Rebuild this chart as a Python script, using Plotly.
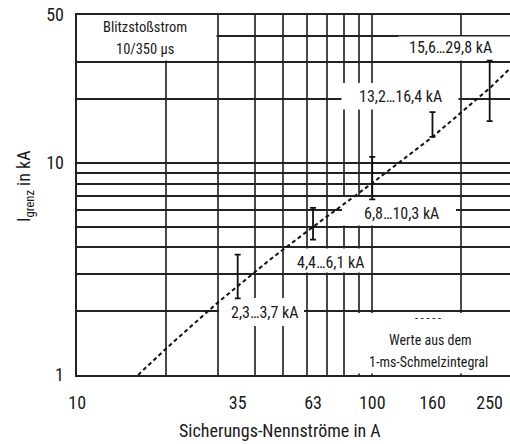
import plotly.graph_objects as go

# ---------------- data ----------------
fuse_ratings = [35, 63, 100, 160, 250]          # A
i_low = [2.3, 4.35, 6.75, 13.3, 15.8]            # kA
i_high = [3.7, 6.15, 10.7, 17.4, 30.5]           # kA
range_labels = ["2,3…3,7 kA", "4,4…6,1 kA", "6,8…10,3 kA", "13,2…16,4 kA", "15,6…29,8 kA"]

curve_x = [16.1, 20, 30, 45, 63, 100, 160, 250, 294]
curve_y = [1.0, 1.33, 2.2, 3.5, 5.0, 8.05, 13.3, 22.6, 28.1]

x_tick_vals = [10, 35, 63, 100, 160, 250]
x_tick_text = ["10", "35", "63", "100", "160", "250"]
y_tick_vals = [1, 10, 50]
y_tick_text = ["1", "10", "50"]
x_grid = [20, 30, 40, 50, 60, 70, 80, 90, 100, 200]
y_grid = [2, 3, 4, 5, 6, 7, 8, 9, 10, 20, 30, 40]

# ---------------- layout constants ----------------
W, H = 510, 444
L, R, T, B = 77, 0, 15, 69
PW, PH = W - L - R, H - T - B
XR = [0.9995, 2.4668]
YR = [-0.0005, 1.6995]
FONT = "Liberation Sans Narrow, Roboto Condensed, DejaVu Sans Condensed, Liberation Sans, sans-serif"
TXT = "#1a1a1a"


def fx(px):
    return (px - L) / PW


def fy(py):
    return (T + PH - py) / PH


def dx(px):  # pixel -> data value on the log x axis
    return 10 ** (XR[0] + (px - L) / PW * (XR[1] - XR[0]))


def dy(py):
    return 10 ** (YR[0] + (T + PH - py) / PH * (YR[1] - YR[0]))


fig = go.Figure()

# white label backgrounds, drawn above the gridlines but below the data
masks = [
    (77, 216.5, 15, 60.5),
    (398, 510, 36.5, 60.5),
    (341.5, 458.5, 83, 109.5),
    (342, 456, 197, 225.5),
    (285, 369.5, 248.5, 272.5),
    (219, 304, 298, 326),
    (345, 510, 313, 373.5),
]
mx, my = [], []
for x0, x1, y0, y1 in masks:
    mx += [dx(x0), dx(x1), dx(x1), dx(x0), dx(x0), None]
    my += [dy(y0), dy(y0), dy(y1), dy(y1), dy(y0), None]
fig.add_trace(go.Scatter(
    x=mx, y=my, mode="lines", fill="toself", fillcolor="white",
    line=dict(width=0, color="rgba(255,255,255,0)"),
    xaxis="x", yaxis="y", hoverinfo="skip", showlegend=False))

fig.add_trace(go.Scatter(
    x=curve_x, y=curve_y, mode="lines",
    line=dict(color="#111", width=2, dash="4px,3px"),
    xaxis="x", yaxis="y", hoverinfo="skip", showlegend=False))

fig.add_trace(go.Scatter(
    x=fuse_ratings, y=i_low, mode="markers",
    marker=dict(size=1, opacity=0),
    error_y=dict(type="data", symmetric=False,
                 array=[h - l for h, l in zip(i_high, i_low)],
                 arrayminus=[0] * len(i_low),
                 color="#111", thickness=1.8, width=3),
    xaxis="x2", yaxis="y2", hoverinfo="skip", showlegend=False))

ann = []


def add_text(text, px, py, size, angle=0):
    ann.append(dict(text=text, x=fx(px), y=fy(py), xref="paper", yref="paper",
                    xanchor="center", yanchor="middle", showarrow=False,
                    textangle=angle, font=dict(size=size, family=FONT, color=TXT)))


label_pos = [(264, 312), (330, 262), (401, 213), (400, 97), (450, 47)]
for text, (px, py) in zip(range_labels, label_pos):
    add_text(text, px, py, 16)

add_text("Blitzstoßstrom", 145, 28, 14.5)
add_text("10/350 µs", 145, 50, 14.5)
add_text("- - - - -", 428, 318, 12)
add_text("Werte aus dem", 430, 340, 14)
add_text("1-ms-Schmelzintegral", 428, 362, 14)
add_text("Sicherungs-Nennströme in A", 280, 431, 18)
add_text("I<sub>grenz</sub> in kA", 25, 186, 18, angle=-90)

fig.update_layout(
    width=W, height=H,
    margin=dict(l=L, r=R, t=T, b=B, pad=0),
    paper_bgcolor="white", plot_bgcolor="white",
    showlegend=False,
    annotations=ann,
    xaxis=dict(type="log", range=XR, tickvals=x_grid, showticklabels=False,
               showgrid=True, gridcolor="#4a4a4a", gridwidth=1.5, ticks="",
               showline=True, linecolor="#222", linewidth=2, mirror=True,
               zeroline=False, fixedrange=True),
    yaxis=dict(type="log", range=YR, tickvals=y_grid, showticklabels=False,
               showgrid=True, gridcolor="#222", gridwidth=1.5, ticks="",
               showline=True, linecolor="#222", linewidth=2, mirror=False,
               zeroline=False, fixedrange=True),
    xaxis2=dict(type="log", range=XR, overlaying="x", anchor="y2", side="bottom",
                tickvals=x_tick_vals, ticktext=x_tick_text, showgrid=False,
                ticks="", showline=False, zeroline=False, ticklabelstandoff=15,
                tickfont=dict(size=18, family=FONT, color=TXT)),
    yaxis2=dict(type="log", range=YR, overlaying="y", anchor="x2", side="left",
                tickvals=y_tick_vals, ticktext=y_tick_text, showgrid=False,
                ticks="", showline=False, zeroline=False, ticklabelstandoff=12,
                tickfont=dict(size=18, family=FONT, color=TXT)),
)

fig.write_html("out.html", config={"displayModeBar": False},
               post_script="document.body.style.margin='0';document.body.style.padding='0';")
